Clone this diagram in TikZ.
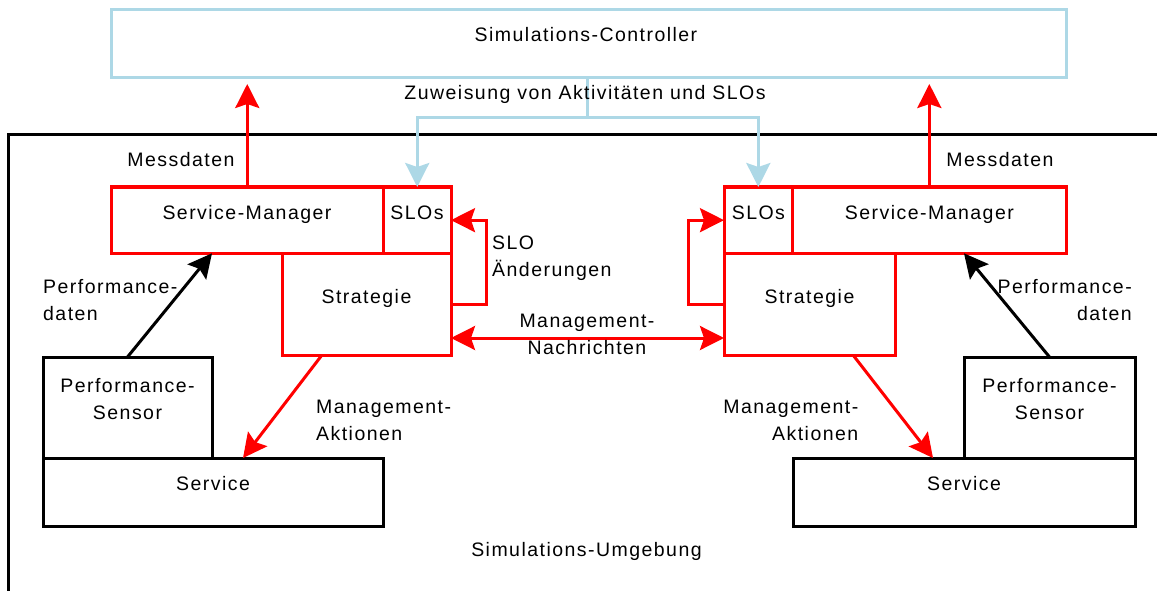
\documentclass[tikz,border=0pt]{standalone}
\usepackage{fontspec}
\setmainfont{Liberation Sans}[LetterSpace=7.5]
\usetikzlibrary{arrows.meta,calc}
\definecolor{ctrlblue}{RGB}{173,216,230}

\begin{document}
\begin{tikzpicture}[x=1pt,y=-1pt,
  font=\fontsize{19.5}{26.8}\selectfont,
  box/.style={draw, line width=3pt, inner sep=0pt, outer sep=0pt, anchor=north west},
  redbox/.style={box, draw=red},
  blackbox/.style={box, draw=black},
  bluebox/.style={box, draw=ctrlblue},
  tip/.style={-{Stealth[length=24pt,width=24pt,inset=4pt]}},
  redarrow/.style={tip, draw=red, line width=3pt},
  blackarrow/.style={tip, draw=black, line width=3pt},
  bluearrow/.style={tip, draw=ctrlblue, line width=3pt},
  bothways/.style={{Stealth[length=24pt,width=24pt,inset=4pt]}-{Stealth[length=24pt,width=24pt,inset=4pt]}, draw=red, line width=3pt},
  txt/.style={inner sep=0pt, anchor=base},
  % two-line captions are placed by the baseline of their last line
  txtl/.style={inner sep=0pt, anchor=base west, align=left},
  txtr/.style={inner sep=0pt, anchor=base east, align=right},
  txtc/.style={inner sep=0pt, anchor=base, align=center},
]
\useasboundingbox (0,0) rectangle (1157,591);
\clip (0,0) rectangle (1157,591);

% controller and simulation environment
\node[bluebox, minimum width=955pt, minimum height=68.5pt] (ctrl) at (111,9.5) {};
\node[blackbox, minimum width=1200pt, minimum height=500pt] (env) at (8.5,135) {};

% left manager
\node[redbox, minimum width=272.5pt, minimum height=66.3pt] (smL) at (111,187) {};
\node[redbox, minimum width=67.5pt, minimum height=66.3pt] (sloL) at (383.5,187) {};
\node[redbox, minimum width=169pt, minimum height=101.7pt] (stL) at (282,253.3) {};
% right manager
\node[redbox, minimum width=68.7pt, minimum height=66.3pt] (sloR) at (724,187) {};
\node[redbox, minimum width=273.3pt, minimum height=66.3pt] (smR) at (792.7,187) {};
\node[redbox, minimum width=171pt, minimum height=101.7pt] (stR) at (724,253.3) {};

% services and sensors
\node[blackbox, minimum width=169pt, minimum height=101pt] (psL) at (43,357) {};
\node[blackbox, minimum width=340pt, minimum height=68pt] (svL) at (43,458) {};
\node[blackbox, minimum width=171pt, minimum height=101pt] (psR) at (964,357) {};
\node[blackbox, minimum width=342pt, minimum height=68pt] (svR) at (793,458) {};

% box captions
\node[txt] (ctrlT) at (586,42) {Simulations-Controller};
\node[txt] (smLT) at (247,219) {Service-Manager};
\node[txt] (sloLT) at (417,219) {SLOs};
\node[txt] (smRT) at (929.4,219) {Service-Manager};
\node[txt] (sloRT) at (758.4,219) {SLOs};
\node[txt] (stLT) at (366.5,303) {Strategie};
\node[txt] (stRT) at (809.5,303) {Strategie};
\node[txtc] (psLT) at (127.5,419) {Performance-\\Sensor};
\node[txtc] (psRT) at (1049.5,419) {Performance-\\Sensor};
\node[txt] (svLT) at (213,490) {Service};
\node[txt] (svRT) at (964,490) {Service};
\node[txt] (envT) at (586.5,556) {Simulations-Umgebung};

% assignment of activities and SLOs
\coordinate (split) at (587,118);
\draw[draw=ctrlblue, line width=3pt] (ctrl.south -| split) -- (split);
\draw[bluearrow] (split) -| (sloL.north);
\draw[bluearrow] (split) -| (sloR.north);
\node[txt] (zuw) at (585,99.5) {Zuweisung von Aktivitäten und SLOs};

% measurement data
\draw[redarrow, shorten >=6pt] (smL.north) -- (smL.north |- ctrl.south);
\draw[redarrow, shorten >=6pt] (smR.north) -- (smR.north |- ctrl.south);
\node[txt] (mdL) at (181,167) {Messdaten};
\node[txt] (mdR) at (1000,167) {Messdaten};

% SLO changes
\draw[redarrow] (stL.east) -- ++(35,0) |- (sloL.east);
\draw[redarrow] (stR.west) -- ++(-36,0) |- (sloR.west);
\node[txtl] (sloch) at (492,276.7) {SLO\\Änderungen};

% management messages
\draw[bothways] ([yshift=17pt]stL.south east) -- ([yshift=17pt]stR.south west);
\node[txtc] (mgmtN) at (587,354) {Management-\\Nachrichten};

% performance data
\draw[blackarrow] (psL.north) -- (psL.north east |- smL.south);
\draw[blackarrow] (psR.north) -- (psR.north west |- smR.south);
\node[txtl] (pdL) at (43,320.7) {Performance-\\daten};
\node[txtr] (pdR) at (1132,320.7) {Performance-\\daten};

% management actions
\draw[redarrow] ([xshift=40pt]stL.south west) -- ([xshift=30pt]svL.north);
\draw[redarrow] ([xshift=-42pt]stR.south east) -- ([xshift=-31pt]svR.north);
\node[txtl] (maL) at (316,440.7) {Management-\\Aktionen};
\node[txtr] (maR) at (858.5,440.7) {Management-\\Aktionen};
\end{tikzpicture}
\end{document}
